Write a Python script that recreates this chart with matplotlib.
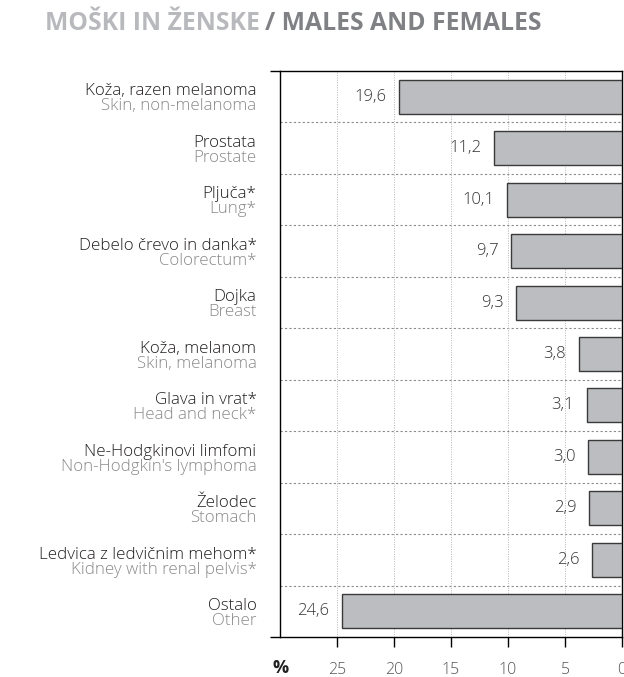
import matplotlib
matplotlib.use("Agg")
import matplotlib.pyplot as plt
import numpy as np

labels_si = ["Koža, razen melanoma", "Prostata", "Pljuča*", "Debelo črevo in danka*", "Dojka",
             "Koža, melanom", "Glava in vrat*", "Ne-Hodgkinovi limfomi", "Želodec",
             "Ledvica z ledvičnim mehom*", "Ostalo"]
labels_en = ["Skin, non-melanoma", "Prostate", "Lung*", "Colorectum*", "Breast",
             "Skin, melanoma", "Head and neck*", "Non-Hodgkin's lymphoma", "Stomach",
             "Kidney with renal pelvis*", "Other"]
values = [19.6, 11.2, 10.1, 9.7, 9.3, 3.8, 3.1, 3.0, 2.9, 2.6, 24.6]
xticks = [25, 20, 15, 10, 5, 0]

plt.rcParams['font.family'] = ['Open Sans', 'DejaVu Sans']

fig = plt.figure(figsize=(6.24, 6.77), dpi=100)
ax = fig.add_axes([280 / 624, 1 - 637 / 677, 342 / 624, 566 / 677])

n = len(values)
y = np.arange(n)
ax.barh(y, values, height=0.66, color="#bcbdc0", edgecolor="#3a3a3a", linewidth=1.0, zorder=3)
ax.set_xlim(30, 0)
ax.set_ylim(n - 0.5, -0.5)

for yi, v in zip(y, values):
    ax.annotate(f"{v:.1f}".replace(".", ","), (v, yi), xytext=(-9, 0), textcoords="offset points",
                ha="right", va="center", fontsize=12, color="#333333", fontweight="light")

# category separators and vertical grid
for b in np.arange(0.5, n - 0.5, 1):
    ax.axhline(b, color="#8c8c8c", lw=0.8, ls=(0, (2, 2)), zorder=1)
for t in xticks[:-1]:
    ax.axvline(t, color="#b5b5b5", lw=0.7, ls=(0, (1, 1.5)), zorder=1)

ax.set_yticks([-0.5, n - 0.5])
ax.set_yticklabels([])
ax.tick_params(axis="y", length=7, width=1, direction="out")
ax.set_xticks(xticks)
ax.set_xticklabels([str(t) for t in xticks])
ax.tick_params(axis="x", length=7, width=1, direction="out", pad=11,
               labelsize=11.5, labelcolor="#555555")
for lab in ax.get_xticklabels():
    lab.set_fontweight("light")
for s in ax.spines.values():
    s.set_linewidth(1.0)
ax.annotate("%", (30, n - 0.5), xytext=(0.5, -22.5), textcoords="offset points", ha="center",
            va="center", fontsize=13, fontweight="bold", color="#222222", annotation_clip=False)

# two-line category labels
for yi, si, en in zip(y, labels_si, labels_en):
    ax.annotate(si, (30, yi), xytext=(-17, 3.8), textcoords="offset points", ha="right",
                va="center", fontsize=12.2, color="#231f20", fontweight="light",
                annotation_clip=False)
    ax.annotate(en, (30, yi), xytext=(-17, -7.0), textcoords="offset points", ha="right",
                va="center", fontsize=12.2, color="#8a8a8a", fontweight="light",
                annotation_clip=False)

# title in two colours
t1 = fig.text(45 / 624, 1 - 23 / 677, "MOŠKI IN ŽENSKE", ha="left", va="center",
              fontsize=17.8, fontweight="bold", color="#b8b9bc")
fig.canvas.draw()
bb = t1.get_window_extent()
fig.text(bb.x1 / fig.bbox.width + 0.009, 1 - 23 / 677, "/ MALES AND FEMALES", ha="left",
         va="center", fontsize=17.8, fontweight="bold", color="#808184")

fig.savefig("out.png", dpi=100)
